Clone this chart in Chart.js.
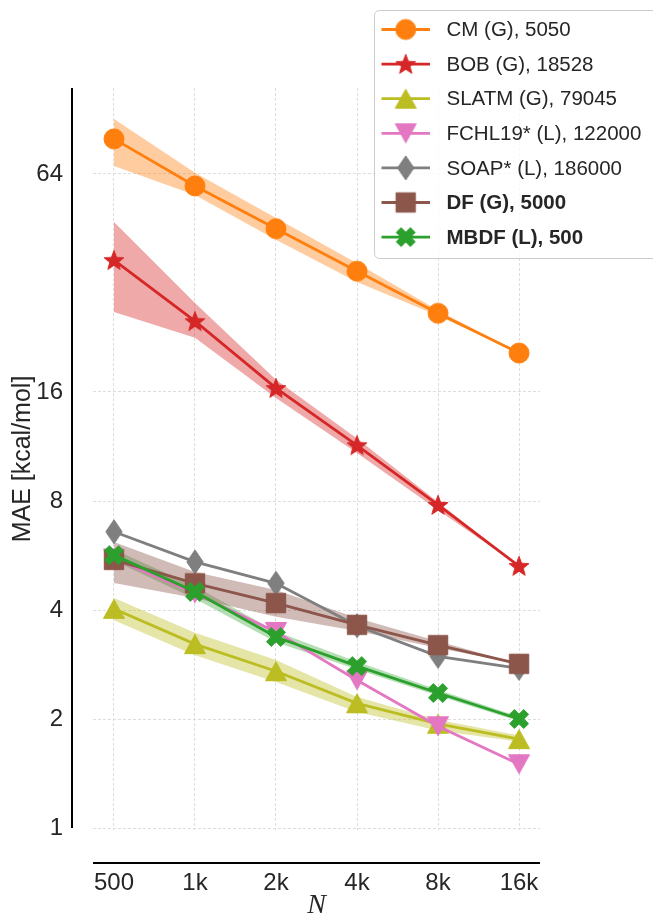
<!DOCTYPE html>
<html><head><meta charset="utf-8">
<script src="https://cdn.jsdelivr.net/npm/chart.js@4/dist/chart.umd.min.js"></script>
<style>html,body{margin:0;padding:0;background:#fff;}canvas{display:block;}</style>
</head><body>
<canvas id="c" width="653" height="915"></canvas>
<script>
// ---- data ----
const categories = ['500', '1k', '2k', '4k', '8k', '16k'];
const yTickValues = [1, 2, 4, 8, 16, 64];
const seriesLabels = ['CM (G), 5050', 'BOB (G), 18528', 'SLATM (G), 79045', 'FCHL19* (L), 122000', 'SOAP* (L), 186000', 'DF (G), 5000', 'MBDF (L), 500'];

const cmMAE    = [80.0, 59.3, 45.2, 34.5, 26.4, 20.5];
const cmLower  = [67.3, 56.0, 42.1, 32.2, 26.0, 20.5];
const cmUpper  = [90.8, 64.5, 48.4, 36.3, 26.9, 20.5];
const bobMAE   = [37.0, 25.1, 16.4, 11.4, 7.8, 5.29];
const bobLower = [26.6, 22.6, 15.4, 10.85, 7.55, 5.29];
const bobUpper = [47.2, 28.2, 17.3, 11.9, 7.95, 5.29];
const slatmMAE   = [4.03, 3.22, 2.71, 2.21, 1.94, 1.76];
const slatmLower = [3.75, 3.00, 2.53, 2.09, 1.86, 1.73];
const slatmUpper = [4.32, 3.46, 2.91, 2.30, 1.99, 1.80];
const fchlMAE  = [5.55, 4.45, 3.48, 2.56, 1.91, 1.50];
const soapMAE  = [6.58, 5.43, 4.74, 3.62, 2.98, 2.76];
const dfMAE    = [5.50, 4.74, 4.18, 3.64, 3.20, 2.84];
const dfLower  = [4.75, 4.32, 3.83, 3.50, 3.14, 2.84];
const dfUpper  = [6.16, 5.09, 4.54, 3.80, 3.28, 2.84];
const mbdfMAE   = [5.67, 4.49, 3.37, 2.80, 2.36, 2.00];
const mbdfLower = [5.47, 4.30, 3.26, 2.74, 2.32, 1.97];
const mbdfUpper = [5.88, 4.65, 3.49, 2.88, 2.41, 2.03];

// ---- styles ----
const colors = ['#ff7f0e', '#d62728', '#bcbd22', '#e377c2', '#7f7f7f', '#8c564b', '#2ca02c'];
const bandAlpha = [0.4, 0.4, 0.4, 0, 0, 0.4, 0.35];
const shapes = ['circle', 'star', 'triUp', 'triDown', 'thinDiamond', 'square', 'xFilled'];
const boldEntry = [false, false, false, false, false, true, true];
const TEXT = '#262626';
const SANS = '"Liberation Sans", Arial, sans-serif';

function hexA(hex, a) {
  const r = parseInt(hex.slice(1,3),16), g = parseInt(hex.slice(3,5),16), b = parseInt(hex.slice(5,7),16);
  return `rgba(${r},${g},${b},${a})`;
}

function makeMarker(shape, color) {
  const S = 28, c = document.createElement('canvas');
  c.width = S; c.height = S;
  const g = c.getContext('2d');
  g.translate(S/2, S/2);
  g.fillStyle = color; g.strokeStyle = color; g.lineWidth = 1; g.lineJoin = 'miter';
  g.beginPath();
  if (shape === 'circle') {
    g.arc(0, 0, 10, 0, Math.PI*2);
  } else if (shape === 'star') {
    const R = 10.5, r = R*0.42;
    for (let i = 0; i < 10; i++) {
      const rad = i % 2 === 0 ? R : r;
      const a = -Math.PI/2 + i*Math.PI/5;
      const px = rad*Math.cos(a), py = rad*Math.sin(a) + 0.8;
      i === 0 ? g.moveTo(px, py) : g.lineTo(px, py);
    }
  } else if (shape === 'triUp') {
    g.moveTo(0, -9.5); g.lineTo(10.5, 9.5); g.lineTo(-10.5, 9.5);
  } else if (shape === 'triDown') {
    g.moveTo(0, 9.5); g.lineTo(10.5, -9.5); g.lineTo(-10.5, -9.5);
  } else if (shape === 'thinDiamond') {
    g.moveTo(0, -12); g.lineTo(8.2, 0); g.lineTo(0, 12); g.lineTo(-8.2, 0);
  } else if (shape === 'square') {
    g.rect(-9.7, -9.7, 19.4, 19.4);
  } else if (shape === 'xFilled') {
    const w = 3.4, L = 10;
    const pts = [[-w,-L],[w,-L],[w,-w],[L,-w],[L,w],[w,w],[w,L],[-w,L],[-w,w],[-L,w],[-L,-w],[-w,-w]];
    const ca = Math.cos(Math.PI/4), sa = Math.sin(Math.PI/4);
    pts.forEach((p, i) => {
      const px = p[0]*ca - p[1]*sa, py = p[0]*sa + p[1]*ca;
      i === 0 ? g.moveTo(px, py) : g.lineTo(px, py);
    });
  }
  g.closePath(); g.fill(); g.stroke();
  return c;
}
const markers = shapes.map((s, i) => makeMarker(s, colors[i]));

const means  = [cmMAE, bobMAE, slatmMAE, fchlMAE, soapMAE, dfMAE, mbdfMAE];
const lowers = [cmLower, bobLower, slatmLower, null, null, dfLower, mbdfLower];
const uppers = [cmUpper, bobUpper, slatmUpper, null, null, dfUpper, mbdfUpper];
const toXY = arr => arr.map((v, i) => ({x: i, y: v}));

const datasets = [];
means.forEach((m, i) => {
  if (lowers[i]) {
    datasets.push({ label: 'low' + i, data: toXY(lowers[i]), borderWidth: 0, pointRadius: 0, fill: false, order: 100, borderColor: 'rgba(0,0,0,0)' });
    datasets.push({ label: 'up' + i, data: toXY(uppers[i]), borderWidth: 0, pointRadius: 0, fill: '-1', order: 100, borderColor: 'rgba(0,0,0,0)', backgroundColor: hexA(colors[i], bandAlpha[i]) });
  }
});
means.forEach((m, i) => {
  datasets.push({
    label: seriesLabels[i], data: toXY(m), borderColor: colors[i], backgroundColor: colors[i],
    borderWidth: 2.8, pointStyle: markers[i], pointRadius: 10, fill: false, tension: 0, order: 6 - i
  });
});

const spinesPlugin = {
  id: 'spines',
  afterDraw(chart) {
    const {ctx, chartArea, scales} = chart;
    ctx.save();
    ctx.strokeStyle = '#000'; ctx.lineWidth = 2;
    const yx = chartArea.left - 21;
    ctx.beginPath();
    ctx.moveTo(yx, scales.y.getPixelForValue(yTickValues[0]));
    ctx.lineTo(yx, chartArea.top);
    ctx.stroke();
    const xy = chartArea.bottom + 33;
    ctx.beginPath();
    ctx.moveTo(chartArea.left, xy); ctx.lineTo(chartArea.right, xy);
    ctx.stroke();
    ctx.restore();
  }
};

const legendPlugin = {
  id: 'customLegend',
  afterDraw(chart) {
    const ctx = chart.ctx;
    ctx.save();
    const bx = 374.5, by = 10.5, bw = 300, bh = 248, r = 5;
    ctx.beginPath();
    ctx.moveTo(bx + r, by); ctx.lineTo(bx + bw - r, by); ctx.arcTo(bx + bw, by, bx + bw, by + r, r);
    ctx.lineTo(bx + bw, by + bh - r); ctx.arcTo(bx + bw, by + bh, bx + bw - r, by + bh, r);
    ctx.lineTo(bx + r, by + bh); ctx.arcTo(bx, by + bh, bx, by + bh - r, r);
    ctx.lineTo(bx, by + r); ctx.arcTo(bx, by, bx + r, by, r);
    ctx.closePath();
    ctx.fillStyle = 'rgba(255,255,255,0.8)'; ctx.fill();
    ctx.strokeStyle = '#cccccc'; ctx.lineWidth = 1; ctx.stroke();
    seriesLabels.forEach((lab, i) => {
      const cy = 29.5 + i * 34.6;
      ctx.strokeStyle = colors[i]; ctx.lineWidth = 2.8;
      ctx.beginPath(); ctx.moveTo(381.5, cy); ctx.lineTo(430, cy); ctx.stroke();
      const mk = markers[i];
      ctx.drawImage(mk, 405.7 - mk.width/2, cy - mk.height/2);
      ctx.fillStyle = TEXT;
      ctx.font = (boldEntry[i] ? 'bold ' : '') + '20.5px ' + SANS;
      ctx.textBaseline = 'middle'; ctx.textAlign = 'left';
      ctx.fillText(lab, 446.5, cy + 1);
    });
    ctx.restore();
  }
};

new Chart(document.getElementById('c'), {
  type: 'line',
  data: { datasets },
  options: {
    responsive: false, animation: false, devicePixelRatio: 1, events: [],
    layout: { padding: { top: 88, right: 113, left: 0, bottom: 0 } },
    plugins: { legend: { display: false }, tooltip: { enabled: false }, filler: { drawTime: 'beforeDatasetsDraw' } },
    scales: {
      x: {
        type: 'linear', min: -0.259, max: 5.259, bounds: 'data',
        afterFit: s => { s.height = 85; },
        afterBuildTicks: s => { s.ticks = categories.map((c, i) => ({ value: i })); },
        ticks: { callback: v => categories[Math.round(v)] ?? '', padding: 39, maxRotation: 0, autoSkip: false, color: TEXT, font: { family: SANS, size: 24 } },
        grid: { drawTicks: false, color: '#d9d9d9', lineWidth: 0.9 },
        border: { display: false, dash: [3, 2] },
        title: { display: true, text: 'N', color: TEXT, font: { family: '"Liberation Serif", "DejaVu Serif", serif', style: 'italic', size: 28, lineHeight: 0.8 }, padding: { top: 0, bottom: -2 } }
      },
      y: {
        type: 'logarithmic', min: Math.pow(2, -2/109), max: Math.pow(2, 740/109), bounds: 'data',
        afterFit: s => { s.width = 93; },
        afterBuildTicks: s => { s.ticks = yTickValues.map(v => ({ value: v })); },
        ticks: { callback: v => String(v), padding: 30, autoSkip: false, color: TEXT, font: { family: SANS, size: 24 } },
        grid: { drawTicks: false, color: '#d9d9d9', lineWidth: 0.9 },
        border: { display: false, dash: [3, 2] },
        title: { display: true, text: 'MAE [kcal/mol]', color: TEXT, font: { family: SANS, size: 25 }, padding: { top: 8, bottom: 0 } }
      }
    }
  },
  plugins: [spinesPlugin, legendPlugin]
});
</script>
</body></html>
